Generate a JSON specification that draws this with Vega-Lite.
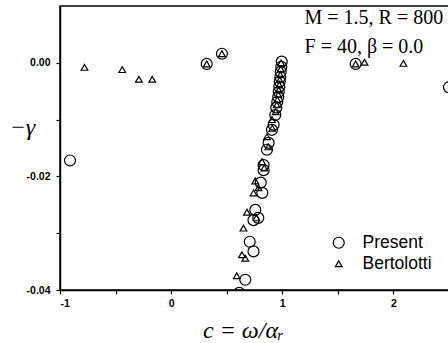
{
  "$schema": "https://vega.github.io/schema/vega-lite/v6.json",
  "autosize": {"type": "none"},
  "padding": {"left": 60, "top": 6, "right": 0, "bottom": 53},
  "width": 389,
  "height": 284,
  "config": {
    "view": {"stroke": "black", "strokeWidth": 1.5},
    "axis": {
      "grid": false,
      "domainColor": "black",
      "domainWidth": 1.5,
      "tickColor": "black",
      "tickWidth": 1.2,
      "tickSize": 4,
      "labelFont": "Liberation Sans",
      "labelFontWeight": "bold",
      "labelFontSize": 10.5,
      "labelColor": "black",
      "titleColor": "black",
      "titleFont": "Liberation Serif",
      "titleFontStyle": "italic",
      "titleFontWeight": "normal",
      "titleFontSize": 24
    },
    "legend": {
      "orient": "none",
      "legendX": 270,
      "legendY": 228,
      "padding": 0,
      "labelFont": "Liberation Sans",
      "labelFontSize": 17.5,
      "labelColor": "black",
      "labelOffset": 15,
      "rowPadding": 2,
      "symbolStrokeColor": "black",
      "symbolStrokeWidth": 1.2,
      "symbolFillColor": "transparent"
    }
  },
  "datasets": {
    "pts": [
      {"series": "Present", "c": -0.91, "g": -0.0172},
      {"series": "Present", "c": 0.32, "g": -0.0002},
      {"series": "Present", "c": 0.457, "g": 0.0016},
      {"series": "Present", "c": 1.66, "g": -0.0002},
      {"series": "Present", "c": 2.5, "g": -0.0043},
      {"series": "Present", "c": 0.995, "g": 0.0002},
      {"series": "Present", "c": 0.991, "g": -0.0007},
      {"series": "Present", "c": 0.986, "g": -0.0016},
      {"series": "Present", "c": 0.982, "g": -0.0025},
      {"series": "Present", "c": 0.977, "g": -0.0033},
      {"series": "Present", "c": 0.973, "g": -0.0042},
      {"series": "Present", "c": 0.968, "g": -0.0051},
      {"series": "Present", "c": 0.964, "g": -0.006},
      {"series": "Present", "c": 0.955, "g": -0.0069},
      {"series": "Present", "c": 0.946, "g": -0.0079},
      {"series": "Present", "c": 0.937, "g": -0.0092},
      {"series": "Present", "c": 0.922, "g": -0.0109},
      {"series": "Present", "c": 0.907, "g": -0.0118},
      {"series": "Present", "c": 0.877, "g": -0.0141},
      {"series": "Present", "c": 0.862, "g": -0.0153},
      {"series": "Present", "c": 0.832, "g": -0.018},
      {"series": "Present", "c": 0.832, "g": -0.0189},
      {"series": "Present", "c": 0.806, "g": -0.0211},
      {"series": "Present", "c": 0.82, "g": -0.0229},
      {"series": "Present", "c": 0.757, "g": -0.0259},
      {"series": "Present", "c": 0.784, "g": -0.0273},
      {"series": "Present", "c": 0.741, "g": -0.0277},
      {"series": "Present", "c": 0.707, "g": -0.0315},
      {"series": "Present", "c": 0.741, "g": -0.0332},
      {"series": "Present", "c": 0.667, "g": -0.0382},
      {"series": "Present", "c": 0.613, "g": -0.0405},
      {"series": "Bertolotti", "c": -0.78, "g": -0.0008},
      {"series": "Bertolotti", "c": -0.44, "g": -0.0012},
      {"series": "Bertolotti", "c": -0.29, "g": -0.0029},
      {"series": "Bertolotti", "c": -0.17, "g": -0.0029},
      {"series": "Bertolotti", "c": 0.32, "g": -0.0002},
      {"series": "Bertolotti", "c": 0.457, "g": 0.0016},
      {"series": "Bertolotti", "c": 1.66, "g": -0.0002},
      {"series": "Bertolotti", "c": 1.74, "g": 0.0001},
      {"series": "Bertolotti", "c": 2.09, "g": -0.0001},
      {"series": "Bertolotti", "c": 0.99, "g": 0.0},
      {"series": "Bertolotti", "c": 0.986, "g": -0.0011},
      {"series": "Bertolotti", "c": 0.982, "g": -0.0021},
      {"series": "Bertolotti", "c": 0.977, "g": -0.003},
      {"series": "Bertolotti", "c": 0.973, "g": -0.0039},
      {"series": "Bertolotti", "c": 0.968, "g": -0.0048},
      {"series": "Bertolotti", "c": 0.964, "g": -0.0056},
      {"series": "Bertolotti", "c": 0.955, "g": -0.0065},
      {"series": "Bertolotti", "c": 0.95, "g": -0.0074},
      {"series": "Bertolotti", "c": 0.941, "g": -0.0086},
      {"series": "Bertolotti", "c": 0.907, "g": -0.01},
      {"series": "Bertolotti", "c": 0.91, "g": -0.0115},
      {"series": "Bertolotti", "c": 0.862, "g": -0.013},
      {"series": "Bertolotti", "c": 0.874, "g": -0.0148},
      {"series": "Bertolotti", "c": 0.817, "g": -0.0174},
      {"series": "Bertolotti", "c": 0.838, "g": -0.0185},
      {"series": "Bertolotti", "c": 0.757, "g": -0.0208},
      {"series": "Bertolotti", "c": 0.786, "g": -0.022},
      {"series": "Bertolotti", "c": 0.741, "g": -0.0229},
      {"series": "Bertolotti", "c": 0.682, "g": -0.0263},
      {"series": "Bertolotti", "c": 0.766, "g": -0.0273},
      {"series": "Bertolotti", "c": 0.651, "g": -0.0291},
      {"series": "Bertolotti", "c": 0.637, "g": -0.0338},
      {"series": "Bertolotti", "c": 0.667, "g": -0.0344},
      {"series": "Bertolotti", "c": 0.59, "g": -0.0375}
    ],
    "notes": [
      {"c": 1.2, "g": 0.0068, "label": "M = 1.5, R = 800"},
      {"c": 1.2, "g": 0.0017, "label": "F = 40, β = 0.0"}
    ]
  },
  "layer": [
    {
      "mark": {"type": "rule", "color": "black", "strokeWidth": 1.5},
      "encoding": {"y": {"datum": 0, "type": "quantitative"}}
    },
    {
      "mark": {"type": "rule", "color": "black", "strokeWidth": 1.5},
      "encoding": {"x": {"datum": 0, "type": "quantitative"}}
    },
    {
      "data": {"name": "pts"},
      "mark": {"type": "point", "filled": false, "color": "black", "strokeWidth": 1.2, "clip": true, "opacity": 1},
      "encoding": {
        "x": {
          "field": "c", "type": "quantitative",
          "scale": {"domain": [-1, 2.5], "nice": false, "zero": false},
          "axis": {
            "title": "c = ω/αᵣ",
            "values": [-1, -0.5, 0, 0.5, 1, 1.5, 2, 2.5],
            "labelExpr": "datum.value % 1 == 0 ? replace(format(datum.value, 'd'), '−', '-') : ''",
            "labelPadding": 4,
            "titleX": 183,
            "titleY": 40,
            "titleBaseline": "middle"
          }
        },
        "y": {
          "field": "g", "type": "quantitative",
          "scale": {"domain": [-0.04, 0.01], "nice": false, "zero": false},
          "axis": {
            "title": "−γ",
            "values": [-0.04, -0.03, -0.02, -0.01, 0],
            "labelExpr": "abs(round(datum.value * 100)) % 2 == 0 ? replace(format(datum.value, '.2f'), '−', '-') : ''",
            "labelPadding": 6,
            "titleAngle": 0,
            "titleX": -38,
            "titleY": 121,
            "titleAlign": "center",
            "titleBaseline": "middle"
          }
        },
        "shape": {
          "field": "series", "type": "nominal",
          "scale": {"domain": ["Present", "Bertolotti"], "range": ["circle", "triangle-up"]},
          "legend": {"title": null}
        },
        "size": {
          "field": "series", "type": "nominal",
          "scale": {"domain": ["Present", "Bertolotti"], "range": [120, 45]},
          "legend": {"title": null}
        }
      }
    },
    {
      "data": {"name": "notes"},
      "mark": {"type": "text", "align": "left", "baseline": "alphabetic", "font": "Liberation Serif", "fontSize": 20, "color": "black"},
      "encoding": {
        "x": {"field": "c", "type": "quantitative"},
        "y": {"field": "g", "type": "quantitative"},
        "text": {"field": "label"}
      }
    }
  ]
}
